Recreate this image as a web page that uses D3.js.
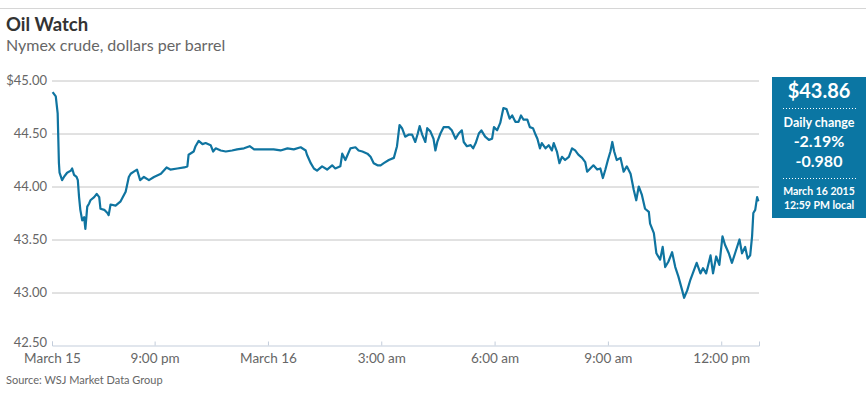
<!DOCTYPE html>
<html>
<head>
<meta charset="utf-8">
<script src="https://cdnjs.cloudflare.com/ajax/libs/d3/7.8.5/d3.min.js"></script>
<style>
  body { margin: 0; background: #fff; }
  svg { display: block; font-family: Lato, "Open Sans", sans-serif; }
</style>
</head>
<body>
<div id="chart"></div>
<script>
"use strict";

var width = 866;
var height = 395;

// clock times (18:xx and later = March 15, earlier = March 16)
var times = [
  "18:18", "18:23", "18:26", "18:28", "18:29", "18:33", "18:36", "18:41", "18:47", "18:49",
  "18:52", "18:56", "18:58", "19:00", "19:02", "19:05", "19:08", "19:10", "19:13", "19:16",
  "19:18", "19:24", "19:28", "19:32", "19:34", "19:40", "19:45", "19:47", "19:50", "19:58",
  "20:06", "20:14", "20:19", "20:22", "20:27", "20:32", "20:37", "20:43", "20:51", "20:59",
  "21:10", "21:19", "21:25", "21:36", "21:47", "21:52", "21:54", "22:02", "22:05", "22:10",
  "22:16", "22:21", "22:29", "22:33", "22:37", "22:45", "22:53", "23:03", "23:11", "23:22",
  "23:31", "23:38", "23:53", "00:09", "00:20", "00:31", "00:41", "00:52", "01:00", "01:02",
  "01:08", "01:13", "01:18", "01:26", "01:34", "01:42", "01:47", "01:55", "01:58", "02:03",
  "02:11", "02:19", "02:24", "02:30", "02:38", "02:43", "02:48", "02:54", "02:59", "03:04",
  "03:12", "03:20", "03:25", "03:29", "03:33", "03:38", "03:44", "03:49", "03:54", "03:58",
  "04:01", "04:05", "04:10", "04:13", "04:18", "04:23", "04:26", "04:29", "04:34", "04:39",
  "04:47", "04:52", "04:58", "05:03", "05:08", "05:11", "05:16", "05:22", "05:26", "05:30",
  "05:35", "05:39", "05:45", "05:51", "05:56", "05:59", "06:04", "06:09", "06:14", "06:19",
  "06:24", "06:28", "06:33", "06:38", "06:42", "06:46", "06:52", "06:56", "07:01", "07:05",
  "07:08", "07:12", "07:15", "07:21", "07:26", "07:31", "07:34", "07:39", "07:43", "07:47",
  "07:52", "07:58", "08:03", "08:08", "08:13", "08:19", "08:24", "08:27", "08:32", "08:37",
  "08:43", "08:48", "08:52", "08:56", "09:00", "09:04", "09:07", "09:10", "09:14", "09:20",
  "09:25", "09:30", "09:36", "09:41", "09:45", "09:49", "09:54", "09:59", "10:05", "10:07",
  "10:13", "10:17", "10:23", "10:27", "10:31", "10:36", "10:42", "10:47", "10:52", "10:58",
  "11:01", "11:06", "11:11", "11:16", "11:21", "11:27", "11:31", "11:36", "11:43", "11:47",
  "11:52", "11:57", "12:02", "12:06", "12:12", "12:17", "12:22", "12:29", "12:33", "12:38",
  "12:42", "12:46", "12:49", "12:51", "12:54", "12:57", "12:59"
];

var prices = [
  44.89, 44.85, 44.69, 44.22, 44.13, 44.06, 44.09, 44.13, 44.15, 44.17,
  44.11, 44.09, 44.06, 43.90, 43.78, 43.68, 43.71, 43.60, 43.81, 43.84,
  43.87, 43.90, 43.93, 43.90, 43.79, 43.78, 43.75, 43.73, 43.83, 43.82,
  43.86, 43.95, 44.09, 44.12, 44.14, 44.16, 44.06, 44.09, 44.06, 44.09,
  44.12, 44.18, 44.16, 44.17, 44.18, 44.19, 44.30, 44.33, 44.38, 44.43,
  44.40, 44.41, 44.39, 44.33, 44.36, 44.34, 44.33, 44.34, 44.35, 44.36,
  44.38, 44.35, 44.35, 44.35, 44.34, 44.36, 44.35, 44.37, 44.34, 44.30,
  44.22, 44.17, 44.15, 44.19, 44.16, 44.20, 44.17, 44.19, 44.31, 44.25,
  44.36, 44.37, 44.34, 44.33, 44.31, 44.28, 44.22, 44.20, 44.20, 44.22,
  44.25, 44.27, 44.38, 44.58, 44.55, 44.47, 44.49, 44.49, 44.42, 44.50,
  44.57, 44.49, 44.42, 44.55, 44.52, 44.45, 44.34, 44.42, 44.50, 44.56,
  44.56, 44.53, 44.45, 44.50, 44.53, 44.42, 44.38, 44.39, 44.36, 44.41,
  44.50, 44.53, 44.47, 44.44, 44.45, 44.56, 44.53, 44.60, 44.74, 44.73,
  44.64, 44.67, 44.61, 44.61, 44.67, 44.63, 44.63, 44.56, 44.55, 44.49,
  44.45, 44.36, 44.41, 44.36, 44.39, 44.34, 44.41, 44.33, 44.22, 44.28,
  44.25, 44.28, 44.36, 44.34, 44.30, 44.27, 44.23, 44.14, 44.17, 44.20,
  44.16, 44.17, 44.08, 44.16, 44.25, 44.33, 44.42, 44.33, 44.25, 44.27,
  44.14, 44.19, 44.12, 43.97, 43.87, 44.00, 43.92, 43.79, 43.76, 43.65,
  43.56, 43.37, 43.31, 43.43, 43.24, 43.29, 43.38, 43.24, 43.15, 43.02,
  42.95, 43.02, 43.12, 43.20, 43.28, 43.18, 43.23, 43.18, 43.35, 43.18,
  43.34, 43.26, 43.53, 43.45, 43.37, 43.28, 43.37, 43.50, 43.37, 43.43,
  43.32, 43.35, 43.53, 43.75, 43.78, 43.90, 43.86
];

var yTicks = [42.5, 43, 43.5, 44, 44.5, 45];
var xTickTimes = ["18:17", "21:00", "00:00", "03:00", "06:00", "09:00", "12:00"];
var xTickLabels = ["March 15", "9:00 pm", "March 16", "3:00 am", "6:00 am", "9:00 am", "12:00 pm"];

var panelLines = ["$43.86", "Daily change", "-2.19%", "-0.980", "March 16 2015", "12:59 PM local"];

function parseClock(s) {
  var p = s.split(":");
  var h = +p[0], m = +p[1];
  var day = h >= 18 ? 15 : 16;
  return new Date(2015, 2, day, h, m);
}

var data = times.map(function (t, i) {
  return { date: parseClock(t), value: prices[i] };
});

var x = d3.scaleTime()
  .domain([parseClock("18:17"), parseClock("13:00")])
  .range([52, 759]);

var y = d3.scaleLinear()
  .domain([42.5, 45])
  .range([345.5, 80.5]);

var svg = d3.select("#chart").append("svg")
  .attr("width", width)
  .attr("height", height);

// top rule
svg.append("line")
  .attr("x1", 0).attr("x2", width)
  .attr("y1", 8.5).attr("y2", 8.5)
  .attr("stroke", "#d6d6d6");

svg.append("text")
  .attr("x", 6).attr("y", 31)
  .attr("font-size", 18.5).attr("font-weight", 700)
  .attr("fill", "#333")
  .text("Oil Watch");

svg.append("text")
  .attr("x", 6).attr("y", 51)
  .attr("font-size", 16)
  .attr("fill", "#666")
  .text("Nymex crude, dollars per barrel");

// gridlines + y labels
var yAxis = svg.append("g")
  .attr("transform", "translate(52,0)")
  .call(d3.axisLeft(y)
    .tickValues(yTicks.slice(1))
    .tickSize(-(759 - 52))
    .tickPadding(5)
    .tickFormat(function (d) { return d === 45 ? "$45.00" : d3.format(".2f")(d); }));
yAxis.select(".domain").remove();
yAxis.selectAll(".tick line").attr("stroke", "#c4c4c4");
yAxis.selectAll(".tick text")
  .attr("font-size", 13).attr("fill", "#666")
  .attr("font-family", "Lato, sans-serif");

// 42.50 label (bottom axis line carries its rule)
svg.append("text")
  .attr("x", 47).attr("y", y(42.5))
  .attr("dy", "0.1em")
  .attr("text-anchor", "end")
  .attr("font-size", 13).attr("fill", "#666")
  .text(d3.format(".2f")(yTicks[0]));

// x axis
var xAxis = svg.append("g")
  .attr("transform", "translate(0," + y(42.5) + ")")
  .call(d3.axisBottom(x)
    .tickValues(xTickTimes.map(parseClock))
    .tickSize(-4)
    .tickPadding(8)
    .tickFormat(function (d, i) { return xTickLabels[i]; }));
xAxis.select(".domain").attr("stroke", "#c3cddb");
xAxis.selectAll(".tick line").attr("stroke", "#c3cddb");
xAxis.selectAll(".tick text")
  .attr("font-size", 13.5).attr("fill", "#666")
  .attr("font-family", "Lato, sans-serif");

// price line
var line = d3.line()
  .x(function (d) { return x(d.date); })
  .y(function (d) { return y(d.value); });

svg.append("path")
  .datum(data)
  .attr("fill", "none")
  .attr("stroke", "#0f74a0")
  .attr("stroke-width", 2.2)
  .attr("stroke-linejoin", "round")
  .attr("d", line);

// source
svg.append("text")
  .attr("x", 6).attr("y", 384)
  .attr("font-size", 11).attr("fill", "#666")
  .text("Source: WSJ Market Data Group");

// right panel
var panel = svg.append("g");
panel.append("rect")
  .attr("x", 772).attr("y", 77)
  .attr("width", 94).attr("height", 141)
  .attr("fill", "#0b76a3");

var cx = 819;
var panelSpec = [
  { y: 98, size: 20, weight: 700 },
  { y: 127, size: 12.5, weight: 700 },
  { y: 147, size: 16, weight: 700 },
  { y: 167, size: 16, weight: 700 },
  { y: 195, size: 10.5, weight: 700 },
  { y: 209, size: 10.5, weight: 700 }
];
panelLines.forEach(function (t, i) {
  panel.append("text")
    .attr("x", cx).attr("y", panelSpec[i].y)
    .attr("text-anchor", "middle")
    .attr("font-size", panelSpec[i].size)
    .attr("font-weight", panelSpec[i].weight)
    .attr("fill", "#fff")
    .text(t);
});

[108, 178].forEach(function (yy) {
  panel.append("line")
    .attr("x1", 783).attr("x2", 857)
    .attr("y1", yy + 0.5).attr("y2", yy + 0.5)
    .attr("stroke", "#fff")
    .attr("stroke-width", 1)
    .attr("stroke-dasharray", "1 2");
});
</script>
</body>
</html>
